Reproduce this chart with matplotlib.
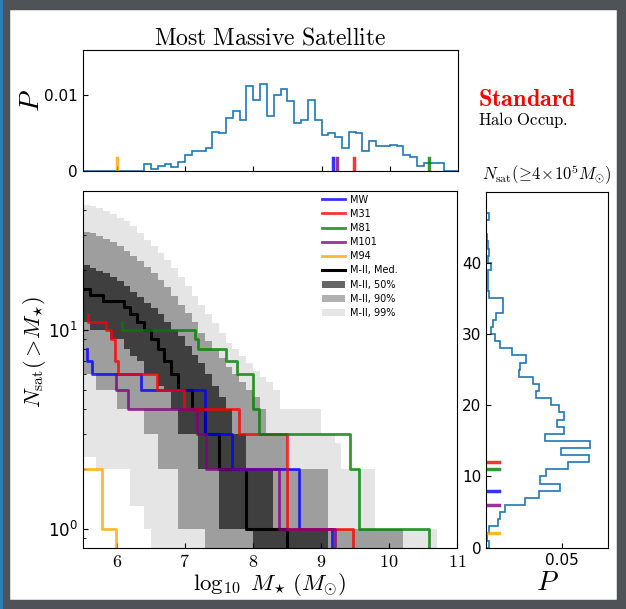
import numpy as np
import matplotlib
matplotlib.use('Agg')
import matplotlib.pyplot as plt
from matplotlib.patches import Patch, Rectangle
from matplotlib.lines import Line2D

plt.rcParams['mathtext.fontset'] = 'cm'
plt.rcParams['xtick.direction'] = 'in'
plt.rcParams['ytick.direction'] = 'in'

# observed hosts: satellite stellar masses, log10(M*/Msun)
HOSTS = ['MW', 'M31', 'M81', 'M101', 'M94']
HOST_COLORS = ['b', 'r', 'g', 'purple', 'orange']
mw_sats = [5.56, 5.64, 6.36, 7.30, 7.30, 7.70, 8.68, 9.17]
m31_sats = [5.58, 5.84, 5.91, 5.98, 5.98, 6.02, 6.59, 6.99, 7.79, 8.50, 8.50, 9.47]
m81_sats = [6.08, 7.15, 7.20, 7.60, 7.76, 8.00, 8.00, 8.09, 9.42, 9.56, 10.59]
m101_sats = [5.99, 6.17, 7.18, 7.31, 8.38, 9.21]
m94_sats = [5.79, 5.99]
curve_start = [5.56, 5.58, 6.08, 5.99, 5.30]
most_massive = [9.17, 9.47, 10.58, 9.23, 6.0]
n_sat = [8, 12, 11, 6, 2]

# M-II percentile bands of N(>M*), bins of 0.1 dex starting at 5.5
u99 = [42.5, 41.9, 40.9, 39.8, 38.2, 36.7, 35.3, 33.3, 30.9, 28.5, 26.4, 24.4, 22.6, 20.5, 18.5, 16.6,
       14.9, 13.4, 12, 10.8, 9.6, 8.6, 8.0, 7.4, 6.8, 6.2, 5.8, 5.5, 5, 4, 4, 4, 4, 4, 4, 3, 3, 2.7,
       2, 2, 2, 2, 2, 1, 1, 1, 1, 1, 1, 1, 1, 1, 0]
l99 = [2.3, 2.3, 2, 2, 2, 2, 2, 1.3, 1.3, 1, 0, 0, 0, 0, 0, 0, 0, 0, 0, 0, 0, 0, 0, 0, 0, 0,
       0, 0, 0, 0, 0, 0, 0, 0, 0, 0, 0, 0, 0, 0, 0, 0, 0, 0, 0, 0, 0, 0, 0, 0, 0, 0, 0]
u90 = [31.1, 30.6, 29.6, 28.8, 27.8, 26.4, 25, 23.5, 22.2, 20.8, 19.4, 17.9, 16.5, 14.9, 13.4, 12.1,
       10.9, 9.7, 8.8, 7.9, 7.2, 6.5, 6, 5.5, 5, 4.6, 4, 3, 3, 3, 2, 2, 2, 2, 2, 2,
       1, 1, 1, 1, 1, 1, 1, 1, 1, 1, 1, 0, 0, 0, 0, 0, 0]
l90 = [6, 6, 5, 5, 5, 4, 4, 4, 4, 3, 3, 2, 2, 2, 1, 1, 1, 1, 0, 0, 0, 0, 0, 0, 0, 0,
       0, 0, 0, 0, 0, 0, 0, 0, 0, 0, 0, 0, 0, 0, 0, 0, 0, 0, 0, 0, 0, 0, 0, 0, 0, 0, 0]
u50 = [21.1, 20.5, 19.8, 19.4, 18.5, 17.6, 16.6, 15.6, 14.7, 13.7, 12.9, 12, 11, 10, 9.3, 8.3,
       7.5, 6.8, 6, 5.2, 4.6, 4, 3, 3, 2, 2, 2, 2, 1, 1, 1, 1, 1, 1, 1, 1,
       0, 0, 0, 0, 0, 0, 0, 0, 0, 0, 0, 0, 0, 0, 0, 0, 0]
l50 = [11, 10, 10, 10, 9, 9, 8, 7.4, 7, 6, 6, 5.2, 5, 4, 3, 3, 3, 2, 2, 2, 1, 1, 1, 1, 1, 0,
       0, 0, 0, 0, 0, 0, 0, 0, 0, 0, 0, 0, 0, 0, 0, 0, 0, 0, 0, 0, 0, 0, 0, 0, 0, 0, 0]
med = [16, 15, 15, 14, 14, 14, 13, 12, 11, 10, 9, 8, 7, 6, 5, 5, 4, 4, 3, 3, 2, 2, 2, 2,
       1, 1, 1, 1, 1, 1, 0, 0, 0, 0, 0, 0, 0, 0, 0, 0, 0, 0, 0, 0, 0, 0, 0, 0, 0, 0, 0, 0, 0]

# most massive satellite pdf, bins of 0.1 dex from 5.5
mmax_pdf = [0, 0, 0, 0, 0, 0, 0, 0, 0,
            0.00093, 0.00027, 0.0007, 0.00093, 0.0005, 0.00115, 0.0021, 0.0026, 0.0026, 0.00305, 0.0052,
            0.0050, 0.0070, 0.0080, 0.0068, 0.0113, 0.0094, 0.0115, 0.0073, 0.0101, 0.0108,
            0.0092, 0.0064, 0.0068, 0.0094, 0.0068, 0.0047, 0.0050, 0.0045, 0.0031, 0.0052,
            0.0050, 0.0026, 0.0040, 0.0033, 0.0033, 0.0035, 0.0033, 0.0021, 0.0019, 0.0007,
            0.0010, 0.0010, 0.0010, 0.0, 0.0]

# N_sat pdf, bins of 1 from 0
nsat_pdf = [0.0022, 0.0005, 0.0022, 0.008, 0.009, 0.0124, 0.0254, 0.0348, 0.0487, 0.0357,
            0.0396, 0.0537, 0.0674, 0.0489, 0.0685, 0.0385, 0.0511, 0.0465, 0.0511, 0.0476,
            0.0428, 0.0326, 0.0346, 0.0309, 0.0217, 0.0222, 0.0265, 0.0172, 0.0091, 0.0059,
            0.0033, 0.0043, 0.0065, 0.0113, 0.0113, 0.0022, 0.0015, 0.0011, 0.0011, 0.003,
            0.0011, 0.0022, 0.0015, 0.0009, 0, 0, 0.0022, 0, 0, 0]


def step_band(vals):
    x = 5.5 + 0.1 * np.arange(len(vals) + 1)
    y = np.append(vals, vals[-1]).astype(float)
    y = np.where(y <= 0, 0.1, y)
    return x, y


def host_curve(sats, start):
    m = np.sort(sats)
    xs = [start]
    ys = [len(m)]
    n = len(m)
    for v in m:
        n -= 1
        xs += [v, v]
        ys += [ys[-1], max(n, 0.1)]
    return xs, ys


fig = plt.figure(figsize=(6.26, 6.09), dpi=100)
ax_top = fig.add_axes([0.1321, 0.7192, 0.5995, 0.1987])
ax = fig.add_axes([0.1321, 0.1002, 0.598, 0.5862])
ax_r = fig.add_axes([0.7764, 0.1007, 0.1949, 0.5846])

# bands
for lo, hi, a in [(l99, u99, 0.1), (l90, u90, 0.31), (l50, u50, 0.6)]:
    x, ylo = step_band(lo)
    _, yhi = step_band(hi)
    ax.fill_between(x, ylo, yhi, step='post', color='k', alpha=a, lw=0)
x, ym = step_band(med)
ax.step(x, ym, where='post', color='k', lw=2.2)

for sats, start, c in zip([mw_sats, m31_sats, m81_sats, m101_sats, m94_sats], curve_start, HOST_COLORS):
    xs, ys = host_curve(sats, start)
    ax.plot(xs, ys, color=c, alpha=0.8, lw=2)

ax.set_yscale('log')
ax.set_xlim(5.5, 11)
ax.set_ylim(0.8, 50)
ax.set_xticks([6, 7, 8, 9, 10, 11])
ax.set_xticklabels([r'$%d$' % v for v in [6, 7, 8, 9, 10, 11]], fontsize=13)
ax.tick_params(axis='y', labelsize=12)
ax.set_xlabel(r'$\log_{10}\ M_{\star}\ (M_{\odot})$', fontsize=16.5, labelpad=0)
ax.set_ylabel(r'$N_{\rm sat}(>\!M_{\star})$', fontsize=16)
ax.yaxis.set_label_coords(-0.092, 0.55)

handles = [Line2D([], [], color=c, alpha=0.8, lw=2) for c in HOST_COLORS]
handles.append(Line2D([], [], color='k', lw=2.2))
handles += [Patch(color='k', alpha=a, lw=0) for a in (0.6, 0.31, 0.1)]
labels = HOSTS + ['M-II, Med.', 'M-II, 50%', 'M-II, 90%', 'M-II, 99%']
ax.legend(handles, labels, loc='upper left', bbox_to_anchor=(0.638, 0.99), fontsize=7,
          frameon=False, handlelength=2.4, handletextpad=0.5, labelspacing=0.43,
          borderaxespad=0, borderpad=0)

# top: most massive satellite
mmax_edges = 5.5 + 0.1 * np.arange(len(mmax_pdf) + 1)
ax_top.stairs(mmax_pdf, mmax_edges, color='#1f77b4', lw=1.2)
for v, c in zip(most_massive, HOST_COLORS):
    ax_top.axvline(v, ymax=0.11, color=c, alpha=0.8, lw=2.5)
ax_top.set_xlim(5.5, 11)
ax_top.set_ylim(0, 0.016)
ax_top.set_xticks([6, 7, 8, 9, 10])
ax_top.set_xticklabels([])
ax_top.set_yticks([0, 0.01])
ax_top.set_yticklabels(['0', '0.01'], fontsize=11)
ax_top.set_ylabel(r'$P$', fontsize=20)
ax_top.yaxis.set_label_coords(-0.10, 0.58)
ax_top.set_title(r'$\mathrm{Most\ Massive\ Satellite}$', fontsize=17, pad=4)

# right: N_sat distribution
nsat_edges = np.arange(len(nsat_pdf) + 1)
ax_r.stairs(nsat_pdf, nsat_edges, orientation='horizontal', color='#1f77b4', lw=1.2)
for v, c in zip(n_sat, HOST_COLORS):
    ax_r.plot([0, 0.0087], [v, v], color=c, alpha=0.8, lw=2.5)
ax_r.set_ylim(0, 50)
ax_r.set_xlim(0, 0.08)
ax_r.set_xticks([0.05])
ax_r.set_xticklabels(['0.05'], fontsize=11)
ax_r.set_yticks([0, 10, 20, 30, 40])
ax_r.tick_params(axis='y', labelsize=11)
ax_r.set_xlabel(r'$P$', fontsize=20, labelpad=0)
ax_r.text(0.5, 1.012, r'$N_{\rm sat}(\!\geq\!4\!\times\!10^5M_{\odot})$', fontsize=12,
          ha='center', va='bottom', transform=ax_r.transAxes)

fig.text(0.764, 0.838, r'$\mathbf{Standard}$', color='red', fontsize=17.5, va='center')
fig.text(0.764, 0.803, r'$\mathrm{Halo\ Occup.}$', color='k', fontsize=12, va='center')

# screenshot frame
fig.patches.append(Rectangle((0, 0), 1, 1, transform=fig.transFigure, fill=False,
                             edgecolor='#4f5257', lw=14, zorder=10))
fig.patches.append(Rectangle((0, 0), 0.005, 1, transform=fig.transFigure,
                             facecolor='#2f7db3', edgecolor='none', zorder=11))

fig.savefig('out.png', dpi=100)
